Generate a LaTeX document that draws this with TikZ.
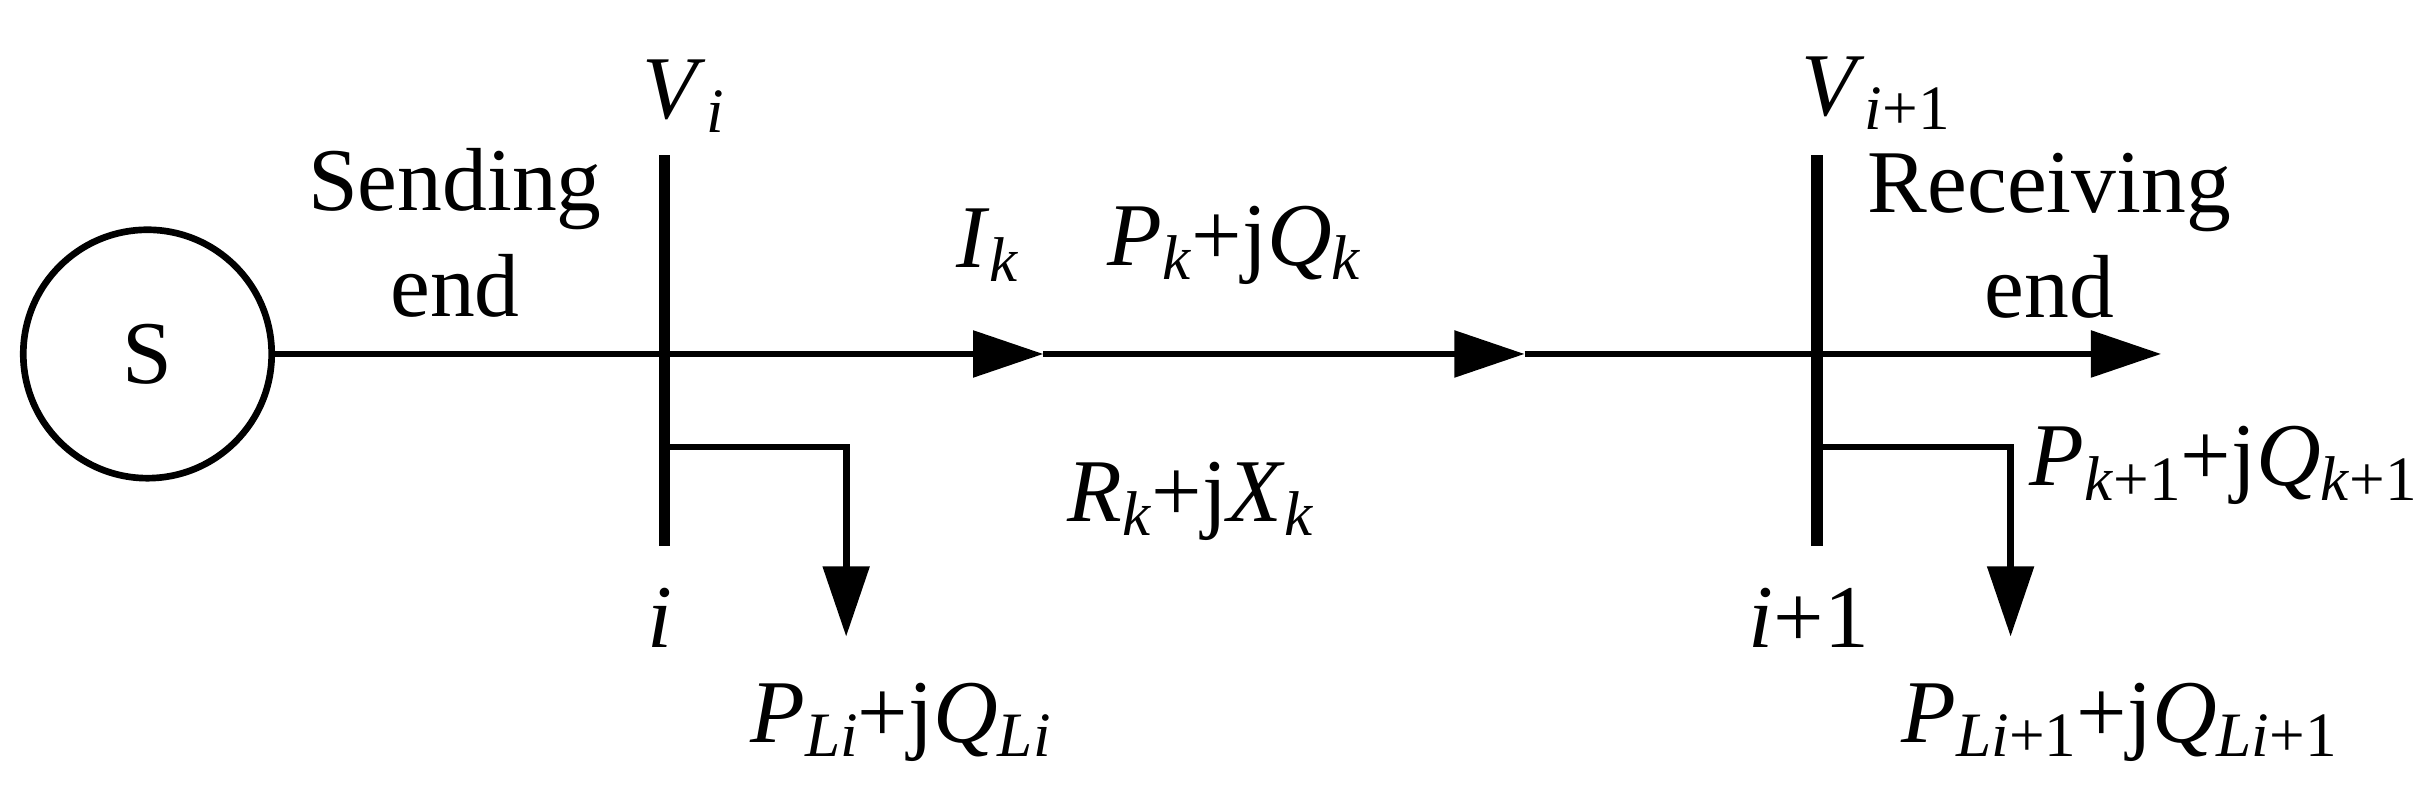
\documentclass[tikz,border=0pt]{standalone}
\usepackage{fontspec}
\setmainfont{Liberation Serif}
\usetikzlibrary{arrows.meta}
\newcommand{\vi}[1]{\textit{#1}}
\newcommand{\sbs}[1]{\raisebox{-0.35ex}{\fontsize{18}{20}\selectfont #1}}
\begin{document}
\begin{tikzpicture}[x=0.01553cm,y=-0.01553cm,
  line/.style={line width=1.9pt},
  bus/.style={line width=3.4pt},
  flow/.style={line width=1.9pt,-{Triangle[length=20pt,width=13pt]}},
  lbl/.style={font=\fontsize{25.5}{30}\selectfont,inner sep=0pt}]
\useasboundingbox (0,0) rectangle (1560,505);
% source
\node[draw,circle,line width=1.9pt,minimum size=160*0.01553cm,lbl] (src) at (95,228) {S};
% buses
\coordinate (bi top) at (428,100); \coordinate (bi bot) at (428,352);
\coordinate (bj top) at (1170,100); \coordinate (bj bot) at (1170,352);
\draw[bus] (bi top) -- (bi bot);
\draw[bus] (bj top) -- (bj bot);
% main line
\coordinate (a1) at (672,228);
\coordinate (a2) at (982,228);
\coordinate (a3) at (1392,228);
\draw[flow] (src.east) -- (a1);
\draw[flow] (a1) -- (a2);
\draw[flow] (a2) -- (a3);
% loads
\coordinate (li) at (428,288); \coordinate (lj) at (1170,288);
\draw[flow] (li) -- (545,288) -- (545,410);
\draw[flow] (lj) -- (1295,288) -- (1295,410);
% labels
\node[lbl] (Vi) at (440,62) {\vi{V}\sbs{\vi{i}}};
\node[lbl,align=center] (send) at (293,150) {Sending\\end};
\node[lbl] (Ik) at (636,158) {\vi{I}\sbs{\vi{k}}};
\node[lbl] (Pk) at (795,158) {\vi{P}\sbs{\vi{k}}+j\vi{Q}\sbs{\vi{k}}};
\node[lbl] (Rk) at (767,323) {\vi{R}\sbs{\vi{k}}+j\vi{X}\sbs{\vi{k}}};
\node[lbl] (Vj) at (1208,60) {\vi{V}\sbs{\vi{i}+1}};
\node[lbl,align=center] (recv) at (1320,152) {Receiving\\end};
\node[lbl] (Pk1) at (1432,300) {\vi{P}\sbs{\vi{k}+1}+j\vi{Q}\sbs{\vi{k}+1}};
\node[lbl] (ni) at (425,398) {\vi{i}};
\node[lbl] (nj) at (1165,398) {\vi{i}+1};
\node[lbl] (PLi) at (580,465) {\vi{P}\sbs{\vi{Li}}+j\vi{Q}\sbs{\vi{Li}}};
\node[lbl] (PLj) at (1365,465) {\vi{P}\sbs{\vi{Li}+1}+j\vi{Q}\sbs{\vi{Li}+1}};
\end{tikzpicture}
\end{document}
